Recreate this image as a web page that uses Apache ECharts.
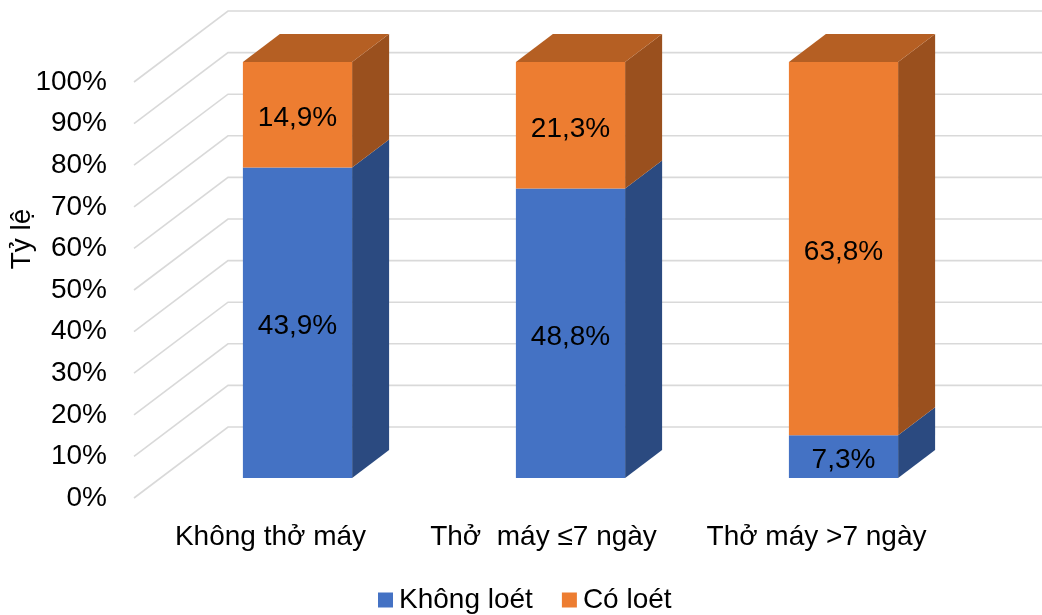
<!DOCTYPE html>
<html>
<head>
<meta charset="utf-8">
<script src="https://cdn.jsdelivr.net/npm/echarts@6/dist/echarts.min.js"></script>
<style>
  html, body { margin: 0; padding: 0; background: #fff; }
  #chart { width: 1042px; height: 615px; }
</style>
</head>
<body>
<div id="chart"></div>
<script>
// Groups on the horizontal axis
const categories = ['Không thở máy', 'Thở  máy ≤7 ngày', 'Thở máy >7 ngày'];
// Percent values printed on each segment
const khongLoet = [43.9, 48.8, 7.3];
const coLoet = [14.9, 21.3, 63.8];
// Value axis ticks
const yTicks = [0, 10, 20, 30, 40, 50, 60, 70, 80, 90, 100];

const seriesNames = ['Không loét', 'Có loét'];
const FONT = 'Liberation Sans, Arial, sans-serif';

// Pseudo-3D geometry (pixels): floor depth and bar placement within it
const FLOOR_DX = 94, FLOOR_DY = 71;   // front edge -> back wall
const BAR_DX = 27, BAR_DY = 20;       // front edge -> bar front face
const BAR_DEPTH_X = 37, BAR_DEPTH_Y = 28;
const BAR_RATIO = 0.4;

const palette = [
  { front: '#4472C4', side: '#2B4A80', top: '#375C9E' },
  { front: '#ED7D31', side: '#9A501E', top: '#B55F23' }
];

// Stacked segments as shares of each group's total
function segments() {
  const out = [[], []];
  categories.forEach(function (c, i) {
    const total = khongLoet[i] + coLoet[i];
    const a = khongLoet[i] / total * 100;
    out[0].push([i, 0, a, khongLoet[i]]);
    out[1].push([i, a, 100, coLoet[i]]);
  });
  return out;
}
const segs = segments();

function fmt(v) { return v.toFixed(1).replace('.', ',') + '%'; }

function barRenderer(k) {
  const col = palette[k];
  const isTop = (k === palette.length - 1);
  return function (params, api) {
    const i = api.value(0);
    const p0 = api.coord([i, api.value(1)]);
    const p1 = api.coord([i, api.value(2)]);
    const half = api.size([1, 0])[0] * BAR_RATIO / 2;
    const xc = p0[0] + BAR_DX;
    const yB = p0[1] - BAR_DY;
    const yT = p1[1] - BAR_DY;
    const xL = xc - half, xR = xc + half;
    const children = [
      { type: 'polygon', shape: { points: [[xR, yT], [xR + BAR_DEPTH_X, yT - BAR_DEPTH_Y], [xR + BAR_DEPTH_X, yB - BAR_DEPTH_Y], [xR, yB]] },
        style: { fill: col.side } },
      { type: 'rect', shape: { x: xL, y: yT, width: xR - xL, height: yB - yT },
        style: { fill: col.front } }
    ];
    if (isTop) {
      children.push({ type: 'polygon', shape: { points: [[xL, yT], [xR, yT], [xR + BAR_DEPTH_X, yT - BAR_DEPTH_Y], [xL + BAR_DEPTH_X, yT - BAR_DEPTH_Y]] },
        style: { fill: col.top } });
    }
    children.push({ type: 'text', x: xc, y: (yT + yB) / 2 + 4,
      style: { text: fmt(api.value(3)), fill: '#000', font: '28px ' + FONT, align: 'center', verticalAlign: 'middle' } });
    return { type: 'group', children: children };
  };
}

const chart = echarts.init(document.getElementById('chart'), null, { renderer: 'canvas' });

chart.setOption({
  backgroundColor: '#fff',
  animation: false,
  textStyle: { fontFamily: FONT },
  grid: { left: 134, right: 89, top: 82, bottom: 117, containLabel: false },
  xAxis: {
    type: 'category',
    data: categories,
    axisLine: { show: false },
    axisTick: { show: false },
    axisLabel: { color: '#000', fontSize: 28, fontFamily: FONT, margin: 25, interval: 0, hideOverlap: false }
  },
  yAxis: {
    type: 'value',
    min: 0, max: 100, interval: 10,
    axisLine: { show: false },
    axisTick: { show: false },
    splitLine: { show: false },
    axisLabel: { color: '#000', fontSize: 28, fontFamily: FONT, margin: 27, formatter: '{value}%' }
  },
  legend: {
    data: seriesNames,
    left: 373, top: 581,
    icon: 'rect',
    itemWidth: 15, itemHeight: 15,
    itemGap: 29,
    textStyle: { color: '#000', fontSize: 28, fontFamily: FONT, padding: [0, 0, 0, 1] }
  },
  graphic: [{
    type: 'text',
    x: 22, y: 239,
    rotation: Math.PI / 2,
    style: { text: 'Tỷ lệ', fill: '#000', font: '28px ' + FONT, align: 'center', verticalAlign: 'middle' }
  }],
  series: [
    {
      // back wall / floor grid lines
      type: 'custom',
      silent: true,
      z: 1,
      data: yTicks.map(function (v) { return [0, v]; }),
      encode: { x: 0, y: 1 },
      renderItem: function (params, api) {
        const y = api.coord([0, api.value(1)])[1];
        const x0 = params.coordSys.x;
        return {
          type: 'polyline',
          shape: { points: [[x0, y], [x0 + FLOOR_DX, y - FLOOR_DY], [1042, y - FLOOR_DY]] },
          style: { stroke: '#d9d9d9', lineWidth: 1.6, fill: null }
        };
      }
    },
    {
      name: seriesNames[0],
      type: 'custom',
      z: 2,
      itemStyle: { color: palette[0].front },
      data: segs[0],
      encode: { x: 0, y: [1, 2] },
      renderItem: barRenderer(0)
    },
    {
      name: seriesNames[1],
      type: 'custom',
      z: 3,
      itemStyle: { color: palette[1].front },
      data: segs[1],
      encode: { x: 0, y: [1, 2] },
      renderItem: barRenderer(1)
    }
  ]
});
</script>
</body>
</html>
